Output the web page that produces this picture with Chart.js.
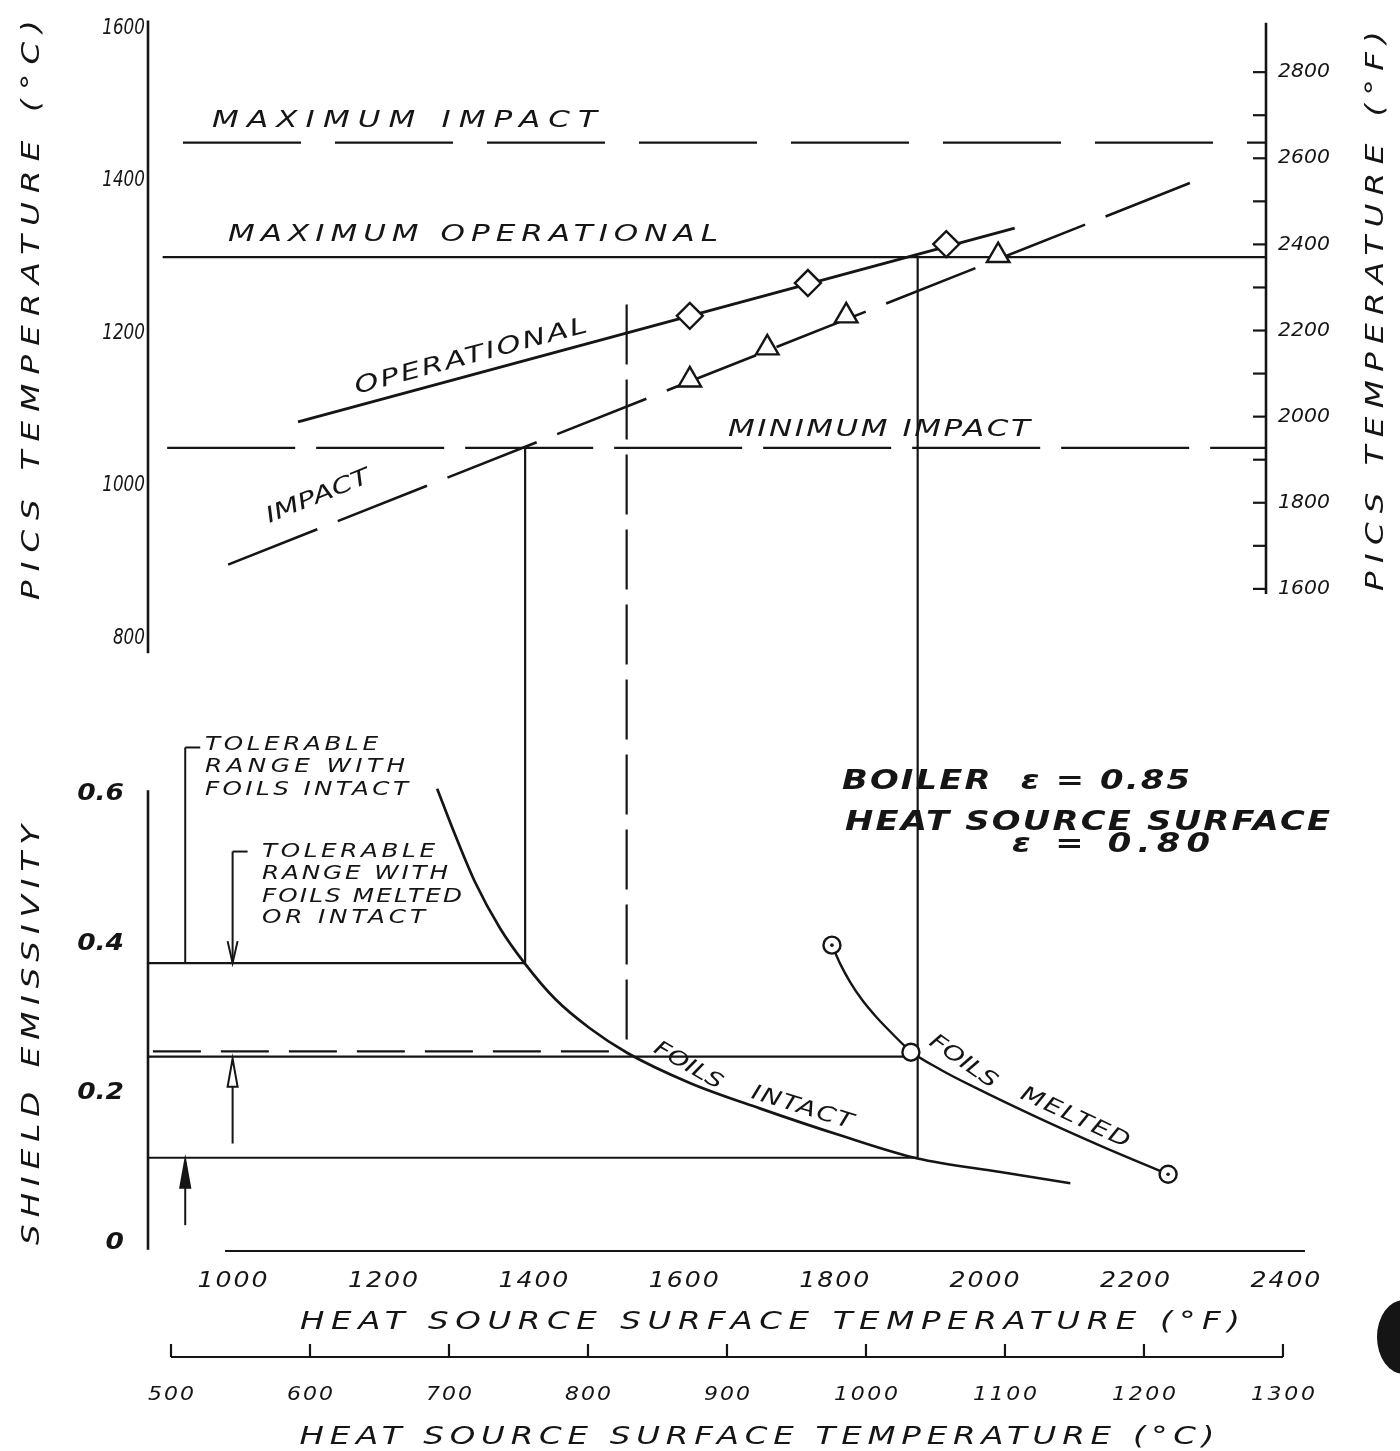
<!DOCTYPE html>
<html>
<head>
<meta charset="utf-8">
<script src="https://cdn.jsdelivr.net/npm/chart.js@4.4.0/dist/chart.umd.min.js"></script>
<style>
html,body{margin:0;padding:0;background:#fff;}
canvas{display:block;}
</style>
</head>
<body>
<canvas id="c" width="1400" height="1451"></canvas>
<script>
// ---------------- DATA ----------------
// Upper panel: PICS temperature (deg C) vs heat source surface temperature (deg F)
const operationalF = [1087, 2040];
const operationalC = [1084, 1338];
const impactF = [994, 2273];
const impactC = [897, 1397];
const diamondF = [1608, 1765, 1949];
const diamondC = [1223, 1266, 1317];
const triangleF = [1608, 1711, 1816, 2018];
const triangleC = [1139, 1181, 1223, 1302];

// Limit levels (deg C) and their extent along the x axis (deg F)
const limitNames = ['MAXIMUM IMPACT', 'MAXIMUM OPERATIONAL', 'MINIMUM IMPACT'];
const limitC = [1450, 1300, 1050];
const limitFromF = [934, 907, 913];
const limitToF = [2374, 2374, 2374];

// Lower panel: shield emissivity vs heat source surface temperature (deg F)
const intactF = [1272, 1296, 1322, 1356, 1389, 1429, 1475, 1525, 1608, 1701, 1808, 1911, 2021, 2114];
const intactE = [0.607, 0.545, 0.483, 0.420, 0.373, 0.326, 0.287, 0.254, 0.214, 0.180, 0.144, 0.113, 0.095, 0.080];
const meltedF = [1797, 1808, 1821, 1837, 1856, 1878, 1902, 1941, 1987, 2070, 2152, 2244];
const meltedE = [0.398, 0.373, 0.349, 0.325, 0.302, 0.279, 0.256, 0.232, 0.208, 0.168, 0.131, 0.092];
const meltedMarkF = [1797, 1902, 2244];
const meltedMarkE = [0.398, 0.255, 0.092];

// Tolerable-range levels (emissivity) and where they end (deg F)
const shieldE = [0.374, 0.256, 0.249, 0.114];
const shieldFromF = [887.5, 894, 887.5, 887.5];
const shieldToF = [1389, 1524, 1902, 1911];

// Vertical construction lines: x (deg F), top (deg C), bottom (emissivity)
const guideF = [1389, 1524, 1911];
const guideTopC = [1050, 1238, 1300];
const guideBottomE = [0.374, 0.256, 0.114];

// Range brackets / arrows (x in deg F, levels in emissivity)
const bracketF = [937, 1000];
const bracketTopE = [0.662, 0.523];
const bracketEndE = [0.374, 0.374];
const arrowFromE = [0.024, 0.133];
const arrowToE = [0.114, 0.249];

// Tick values
const leftTicksC = [800, 1000, 1200, 1400, 1600];
const rightTicksF = [1600, 1700, 1800, 1900, 2000, 2100, 2200, 2300, 2400, 2500, 2600, 2700, 2800];
const rightLabelsF = [1600, 1800, 2000, 2200, 2400, 2600, 2800];
const emisTicks = [0, 0.2, 0.4, 0.6];
const emisLabels = ['0', '0.2', '0.4', '0.6'];
const bottomTicksF = [1000, 1200, 1400, 1600, 1800, 2000, 2200, 2400];
const bottomTicksC = [500, 600, 700, 800, 900, 1000, 1100, 1200, 1300];

// Axis line extents
const axisSpanC = [781, 1610];
const axisSpanE = [-0.009, 0.605];
const axisSpanRightF = [1588, 2915];
const axisSpanBottomF = [990, 2426];
const axisSpanBottomC = [500, 1300];

// ---------------- STYLE ----------------
const INK = '#151515';
const FONT = '"DejaVu Sans", "Liberation Sans", sans-serif';

function pts(xs, ys) { return xs.map((x, i) => ({x: x, y: ys[i]})); }

function txt(ctx, s, x, y, o) {
  o = o || {};
  let fs = o.size || 20;
  const sx = o.sx || 1.3;
  ctx.save();
  ctx.translate(x, y);
  if (o.rot) ctx.rotate(o.rot * Math.PI / 180);
  ctx.scale(sx, 1);
  const mk = () => (o.italic === false ? 'normal' : 'italic') + ' ' + (o.weight || 400) + ' ' + fs + 'px ' + FONT;
  ctx.font = mk();
  const hasLS = typeof ctx.letterSpacing === 'string';
  if (hasLS) ctx.letterSpacing = '0px';
  let w = ctx.measureText(s).width;
  let sp = 0;
  const target = o.w ? o.w / sx : 0;
  if (target) {
    if (w > target) { fs = fs * target / w; ctx.font = mk(); w = ctx.measureText(s).width; }
    sp = s.length > 1 ? (target - w) / (s.length - 1) : 0;
  }
  const total = target || w;
  let x0 = 0;
  const al = o.align || 'left';
  if (al === 'center') x0 = -total / 2; else if (al === 'right') x0 = -total;
  ctx.fillStyle = INK;
  ctx.textBaseline = 'middle';
  ctx.textAlign = 'left';
  if (sp > 0.05 && hasLS) { ctx.letterSpacing = sp + 'px'; ctx.fillText(s, x0, 0); }
  else if (sp > 0.05) {
    let cx = x0;
    for (const ch of s) { ctx.fillText(ch, cx, 0); cx += ctx.measureText(ch).width + sp; }
  } else ctx.fillText(s, x0, 0);
  ctx.restore();
}

function seg(ctx, x1, y1, x2, y2) { ctx.beginPath(); ctx.moveTo(x1, y1); ctx.lineTo(x2, y2); ctx.stroke(); }

function arrowHead(ctx, x, tipY, dir, len, half, filled) {
  ctx.beginPath();
  ctx.moveTo(x, tipY);
  ctx.lineTo(x - half, tipY - dir * len);
  ctx.lineTo(x + half, tipY - dir * len);
  ctx.closePath();
  ctx.fillStyle = filled ? INK : '#fff';
  ctx.fill();
  ctx.stroke();
}

const paperPlugin = {
  id: 'paper',
  beforeDatasetsDraw(chart) {
    const ctx = chart.ctx, s = chart.scales;
    ctx.save();
    ctx.strokeStyle = INK;
    ctx.lineWidth = 2.2;
    const dashes = [[], [60, 15], []];
    guideF.forEach((f, i) => {
      const x = s.x.getPixelForValue(f);
      ctx.setLineDash(dashes[i]);
      seg(ctx, x, s.yC.getPixelForValue(guideTopC[i]), x, s.yE.getPixelForValue(guideBottomE[i]));
    });
    ctx.setLineDash([]);
    ctx.restore();
  },
  afterDatasetsDraw(chart) {
    const ctx = chart.ctx, s = chart.scales, a = chart.chartArea;
    ctx.save();
    ctx.strokeStyle = INK;
    ctx.lineCap = 'butt';

    // ---- axis lines ----
    ctx.lineWidth = 2.6;
    seg(ctx, a.left, s.yC.getPixelForValue(axisSpanC[1]), a.left, s.yC.getPixelForValue(axisSpanC[0]));
    seg(ctx, a.left, s.yE.getPixelForValue(axisSpanE[1]), a.left, s.yE.getPixelForValue(axisSpanE[0]));
    seg(ctx, a.right, s.yF.getPixelForValue(axisSpanRightF[1]), a.right, s.yF.getPixelForValue(axisSpanRightF[0]));
    ctx.lineWidth = 2.2;
    const yBot = a.bottom + 1;
    seg(ctx, s.x.getPixelForValue(axisSpanBottomF[0]), yBot, s.x.getPixelForValue(axisSpanBottomF[1]), yBot);
    const yCax = 1357;
    seg(ctx, s.x2.getPixelForValue(axisSpanBottomC[0]), yCax, s.x2.getPixelForValue(axisSpanBottomC[1]), yCax);

    rightTicksF.forEach(v => { const y = s.yF.getPixelForValue(v); seg(ctx, a.right - 13, y, a.right, y); });
    bottomTicksC.forEach(v => { const x = s.x2.getPixelForValue(v); seg(ctx, x, yCax - 13, x, yCax); });

    // ---- tick labels ----
    leftTicksC.forEach(v => txt(ctx, String(v), a.left - 3, s.yC.getPixelForValue(v), {size: 21, sx: 0.8, align: 'right'}));
    rightLabelsF.forEach(v => txt(ctx, String(v), a.right + 12, s.yF.getPixelForValue(v), {size: 20, sx: 1.02}));
    emisTicks.forEach((v, i) => txt(ctx, emisLabels[i], 124, s.yE.getPixelForValue(v), {size: 23, weight: 600, sx: 1.15, align: 'right'}));
    bottomTicksF.forEach(v => txt(ctx, String(v), s.x.getPixelForValue(v), 1282, {size: 21, sx: 1.2, w: 70, align: 'center'}));
    bottomTicksC.forEach(v => txt(ctx, String(v), s.x2.getPixelForValue(v), 1395, {size: 20, sx: 1.1, w: String(v).length > 3 ? 64 : 46, align: 'center'}));

    // ---- axis titles ----
    txt(ctx, 'PICS TEMPERATURE (°C)', 32, 310, {size: 25, w: 580, align: 'center', rot: -90});
    txt(ctx, 'PICS TEMPERATURE (°F)', 1376, 311, {size: 25, w: 560, align: 'center', rot: -90});
    txt(ctx, 'SHIELD EMISSIVITY', 32, 1035, {size: 25, w: 420, align: 'center', rot: -90});
    txt(ctx, 'HEAT SOURCE SURFACE TEMPERATURE (°F)', 770, 1322, {size: 25, w: 940, align: 'center'});
    txt(ctx, 'HEAT SOURCE SURFACE TEMPERATURE (°C)', 757, 1437, {size: 25, w: 915, align: 'center'});

    // ---- in-plot labels ----
    txt(ctx, 'MAXIMUM IMPACT', 212, 121, {size: 23, sx: 1.35, w: 385});
    txt(ctx, 'MAXIMUM OPERATIONAL', 228, 235, {size: 23, sx: 1.35, w: 490});
    txt(ctx, 'MINIMUM IMPACT', 728, 430, {size: 23, sx: 1.35, w: 302});
    txt(ctx, 'OPERATIONAL', 471, 357, {size: 23, sx: 1.35, w: 240, align: 'center', rot: -15});
    txt(ctx, 'IMPACT', 318, 497, {size: 23, sx: 1.35, w: 110, align: 'center', rot: -22});
    txt(ctx, 'FOILS', 688, 1066, {size: 21, w: 76, align: 'center', rot: 30});
    txt(ctx, 'INTACT', 802, 1108, {size: 21, w: 105, align: 'center', rot: 17});
    txt(ctx, 'FOILS', 963, 1062, {size: 21, w: 78, align: 'center', rot: 35});
    txt(ctx, 'MELTED', 1075, 1118, {size: 21, w: 118, align: 'center', rot: 25});

    txt(ctx, 'TOLERABLE', 205, 745, {size: 19, w: 173});
    txt(ctx, 'RANGE WITH', 205, 767, {size: 19, w: 200});
    txt(ctx, 'FOILS INTACT', 205, 790, {size: 19, w: 203});
    txt(ctx, 'TOLERABLE', 262, 852, {size: 19, w: 173});
    txt(ctx, 'RANGE WITH', 262, 874, {size: 19, w: 186});
    txt(ctx, 'FOILS MELTED', 262, 897, {size: 19, w: 200});
    txt(ctx, 'OR INTACT', 262, 918, {size: 19, w: 163});

    txt(ctx, 'BOILER  ε = 0.85', 842, 782, {size: 26, w: 348, weight: 600});
    txt(ctx, 'HEAT SOURCE SURFACE', 845, 823, {size: 26, w: 485, weight: 600});
    txt(ctx, 'ε = 0.80', 1012, 845, {size: 26, w: 198, weight: 600});

    // ---- range brackets and arrows ----
    ctx.lineWidth = 2;
    ctx.setLineDash([]);
    bracketF.forEach((f, i) => {
      const x = s.x.getPixelForValue(f);
      const yTop = s.yE.getPixelForValue(bracketTopE[i]);
      const yEnd = s.yE.getPixelForValue(bracketEndE[i]);
      seg(ctx, x, yTop, x + 15, yTop);
      seg(ctx, x, yTop, x, yEnd - 1);
      if (i === 1) {
        ctx.beginPath(); ctx.moveTo(x - 5, yEnd - 22); ctx.lineTo(x, yEnd); ctx.lineTo(x + 5, yEnd - 22); ctx.stroke();
      }
      const yFrom = s.yE.getPixelForValue(arrowFromE[i]);
      const yTo = s.yE.getPixelForValue(arrowToE[i]);
      seg(ctx, x, yFrom, x, yTo + 4);
      arrowHead(ctx, x, yTo + 2, -1, 28, 5, i === 0);
    });

    // scan artefact (punch hole) at the right edge
    ctx.fillStyle = INK;
    ctx.beginPath();
    ctx.ellipse(1404, 1337, 27, 37, 0, 0, Math.PI * 2);
    ctx.fill();
    ctx.restore();
  }
};

// ---------------- DATASETS ----------------
const datasets = [];
const mark = {showLine: false, pointBackgroundColor: '#fff', pointBorderColor: INK, pointBorderWidth: 2.4, order: 0};
datasets.push(Object.assign({label: 'Operational data', data: pts(diamondF, diamondC), yAxisID: 'yC', pointStyle: 'rectRot', pointRadius: 13}, mark));
datasets.push(Object.assign({label: 'Impact data', data: pts(triangleF, triangleC), yAxisID: 'yC', pointStyle: 'triangle', pointRadius: 13}, mark));
datasets.push(Object.assign({label: 'Foils melted data', data: pts(meltedMarkF, meltedMarkE), yAxisID: 'yE', pointStyle: 'circle', pointRadius: 8.5}, mark));
datasets.push({label: 'centre dots', data: pts([meltedMarkF[0], meltedMarkF[2]], [meltedMarkE[0], meltedMarkE[2]]), yAxisID: 'yE', showLine: false,
  pointStyle: 'circle', pointRadius: 1.8, pointBackgroundColor: INK, pointBorderColor: INK, pointBorderWidth: 0, order: -1});

const line = {borderColor: INK, pointRadius: 0, fill: false, order: 2};
datasets.push(Object.assign({label: 'OPERATIONAL', data: pts(operationalF, operationalC), yAxisID: 'yC', borderWidth: 3}, line));
datasets.push(Object.assign({label: 'IMPACT', data: pts(impactF, impactC), yAxisID: 'yC', borderWidth: 2.6, borderDash: [96, 22]}, line));
const limitDash = [[118, 34], [], [128, 21]];
limitC.forEach((c, i) => datasets.push(Object.assign({label: limitNames[i], data: pts([limitFromF[i], limitToF[i]], [c, c]), yAxisID: 'yC',
  borderWidth: 2.2, borderDash: limitDash[i]}, line, {order: 3})));
datasets.push(Object.assign({label: 'FOILS INTACT', data: pts(intactF, intactE), yAxisID: 'yE', borderWidth: 2.7, cubicInterpolationMode: 'monotone'}, line));
datasets.push(Object.assign({label: 'FOILS MELTED', data: pts(meltedF, meltedE), yAxisID: 'yE', borderWidth: 2.4, cubicInterpolationMode: 'monotone'}, line));
const shieldDash = [[], [48, 20], [], []];
shieldE.forEach((e, i) => datasets.push(Object.assign({label: 'level ' + e, data: pts([shieldFromF[i], shieldToF[i]], [e, e]), yAxisID: 'yE',
  borderWidth: 2.2, borderDash: shieldDash[i]}, line, {order: 3})));

new Chart(document.getElementById('c'), {
  type: 'line',
  data: {datasets: datasets},
  options: {
    responsive: false,
    animation: false,
    events: [],
    devicePixelRatio: 1,
    layout: {padding: {left: 148, right: 134, top: 10, bottom: 201}},
    plugins: {legend: {display: false}, tooltip: {enabled: false}, title: {display: false}},
    scales: {
      x: {type: 'linear', display: false, min: 887.5, max: 2374.2},
      x2: {type: 'linear', display: false, position: 'bottom', min: 483.45, max: 1287.8},
      yC: {type: 'linear', display: false, position: 'left', min: -1.1, max: 1616.7},
      yE: {type: 'linear', display: false, position: 'left', min: -0.00918, max: 1.6398},
      yF: {type: 'linear', display: false, position: 'right', min: 64.7, max: 2931.8}
    }
  },
  plugins: [paperPlugin]
});
</script>
</body>
</html>
